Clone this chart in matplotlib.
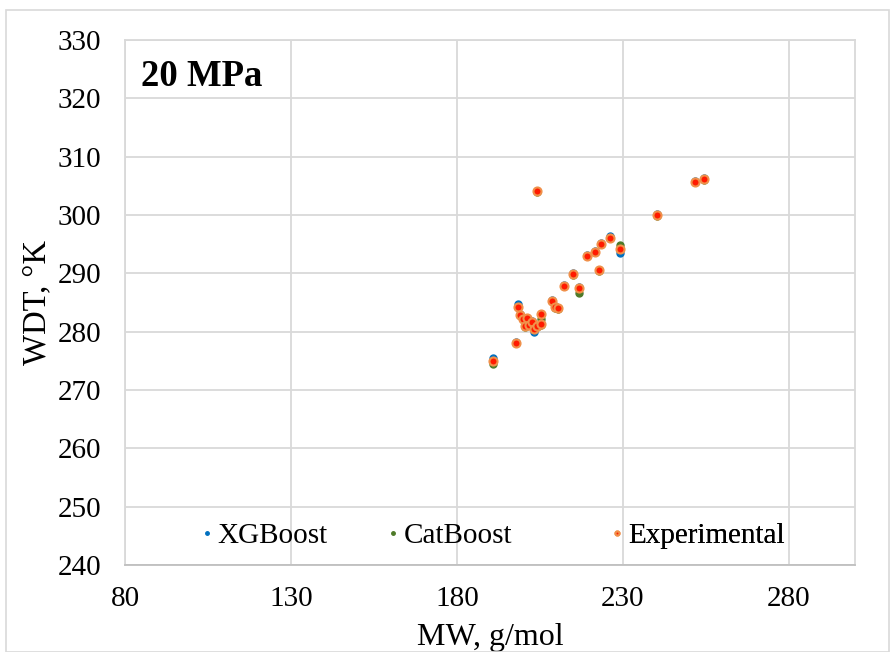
import matplotlib.pyplot as plt
from matplotlib.patches import Rectangle

plt.rcParams['font.family'] = ['Liberation Serif', 'DejaVu Serif']

# molecular weight (g/mol) and wax disappearance temperature (K) at 20 MPa
mw = [191.0, 197.8, 198.3, 199.1, 199.8, 200.5, 201.2, 201.8, 202.7, 203.2,
      204.2, 205.3, 205.3, 204.1, 208.8, 209.6, 210.5, 212.3, 215.1, 216.7,
      219.2, 221.6, 222.8, 223.6, 226.3, 229.2, 240.2, 251.9, 254.4]
wdt_exp = [275.0, 278.1, 284.3, 282.9, 282.2, 280.9, 282.3, 281.2, 281.7, 280.4,
           280.9, 281.3, 283.0, 304.1, 285.3, 284.2, 284.0, 287.9, 289.9, 287.5,
           293.0, 293.7, 290.5, 295.1, 296.1, 294.2, 300.0, 305.7, 306.1]
wdt_xgb = [275.5, 278.2, 284.7, 283.0, 282.3, 281.0, 282.4, 281.3, 281.8, 279.9,
           281.0, 281.4, 283.1, 304.2, 285.4, 284.4, 284.1, 288.0, 290.1, 287.6,
           293.1, 293.8, 290.6, 295.2, 296.4, 293.5, 300.1, 305.8, 306.4]
wdt_cat = [274.5, 278.0, 284.2, 282.8, 282.1, 280.8, 282.2, 281.1, 281.6, 280.6,
           280.8, 281.2, 282.1, 304.0, 285.2, 284.1, 283.9, 287.8, 289.8, 286.7,
           292.9, 293.6, 290.4, 295.0, 296.0, 294.9, 299.9, 305.6, 306.0]

fig = plt.figure(figsize=(8.91, 6.52), dpi=100)
fig.patches.append(Rectangle((6 / 891, 0), 883 / 891, 1 - 10 / 652,
                             transform=fig.transFigure, fill=False,
                             edgecolor='#D9D9D9', linewidth=1.2))
ax = fig.add_axes([125 / 891, 1 - 565 / 652, 730 / 891, 525 / 652])

h_xgb, = ax.plot(mw, wdt_xgb, 'o', ms=5, color='#0070C0', mec='#0070C0',
                 label='XGBoost')
h_cat, = ax.plot(mw, wdt_cat, 'o', ms=5, color='#4E7A28', mec='#4E7A28',
                 label='CatBoost')
h_exp, = ax.plot(mw, wdt_exp, 'o', ms=5.8, color='#FF1A00', mec='#F0904A',
                 mew=1.5, label='Experimental')

ax.set_xlim(80, 300)
ax.set_ylim(240, 330)
ax.set_xticks([80, 130, 180, 230, 280])
ax.set_yticks(range(240, 331, 10))
ax.grid(True, color='#D9D9D9', linewidth=1.3)
ax.set_axisbelow(True)
for s in ax.spines.values():
    s.set_color('#D9D9D9')
    s.set_linewidth(1.3)
ax.spines['bottom'].set_color('#BFBFBF')
ax.tick_params(length=0, labelsize=21)
ax.tick_params(axis='y', pad=17)
ax.tick_params(axis='x', pad=15)

ax.set_xlabel('MW, g/mol', fontsize=23, labelpad=8)
ax.set_ylabel('WDT, °K', fontsize=23.5, labelpad=4)
ax.text(0.022, 0.93, '20 MPa', transform=ax.transAxes, fontsize=26.5,
        fontweight='bold', va='center')

# one legend per entry so each sits at its own spot along the bottom
for h, x0 in [(h_xgb, 0.106), (h_cat, 0.361), (h_exp, 0.668)]:
    leg = ax.legend(handles=[h], loc='center left', bbox_to_anchor=(x0, 0.056),
                    frameon=False, fontsize=21, markerscale=0.5,
                    handlelength=0.3, handletextpad=0.22, borderpad=0,
                    borderaxespad=0)
    ax.add_artist(leg)

fig.savefig('out.png', dpi=100)
